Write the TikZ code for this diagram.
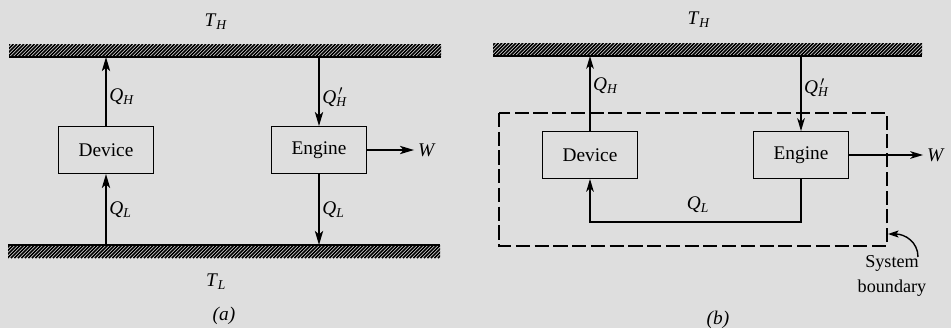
\documentclass[tikz,border=0pt]{standalone}
\usepackage{fontspec}
\setmainfont{Liberation Serif}
\usetikzlibrary{arrows.meta,positioning}
\definecolor{paper}{RGB}{222,222,222}
\newcommand{\qsub}[2]{\textit{#1}\textsubscript{\textit{#2}}}
\newcommand{\qpsub}[2]{\textit{#1}\rlap{\textsuperscript{\,$\prime$}}\textsubscript{\textit{#2}}}

\begin{document}
\begin{tikzpicture}[
    x=0.03cm, y=-0.03cm,
    font=\fontsize{16.5}{19}\selectfont,
    box/.style={draw, line width=1pt, minimum width=2.85cm, minimum height=1.4cm, inner sep=0pt},
    flowa/.style={-{Stealth[length=12pt,width=7pt,inset=3pt]}, line width=1.7pt},
    flowb/.style={-{Stealth[length=11pt,width=6.5pt,inset=3pt]}, line width=1.2pt},
    hatch/.style={line width=1.3pt},
    lbl/.style={inner sep=2pt},
    boundary/.style={dashed, dash pattern=on 12pt off 4pt, line width=1.2pt}
  ]
    \fill[paper] (0,0) rectangle (951,328);
    \useasboundingbox (0,0) rectangle (951,328);

    % reservoirs
    \begin{scope}
      \clip (9,44) rectangle (441,57);
      \foreach \k in {-10,-6.5,...,445} \draw[hatch] (\k,57) -- (\k+13,44);
    \end{scope}
    \draw[line width=1.2pt] (9,57) -- (441,57);
    \begin{scope}
      \clip (8,245) rectangle (440,258);
      \foreach \k in {-10,-6.5,...,445} \draw[hatch] (\k,258) -- (\k+13,245);
    \end{scope}
    \draw[line width=1.2pt] (8,245) -- (440,245);
    \begin{scope}
      \clip (493,43) rectangle (922,56);
      \foreach \k in {475,478.5,...,925} \draw[hatch] (\k,56) -- (\k+13,43);
    \end{scope}
    \draw[line width=1.2pt] (493,56) -- (922,56);

    \coordinate (hotA) at (225,57);
    \coordinate (coldA) at (225,245);
    \coordinate (hotB) at (707,56);

    % (a)
    \node (tha) at (216,22) {\qsub{T}{H}};
    \node (tla) at (216,282) {\qsub{T}{L}};
    \node (capa) at (224,316) {\textit{(a)}};

    \node[box] (deva) at (106,150) {Device};
    \node[box] (enga) at (319,150) {Engine};
    \node (wa) at (427,150) {\textit{W}};

    \draw[flowa] (deva.north) -- (deva.north |- hotA)
      node[lbl, right, pos=0.42] (qha) {\qsub{Q}{H}};
    \draw[flowa] (deva.south |- coldA) -- (deva.south)
      node[lbl, right, pos=0.5] (qla) {\qsub{Q}{L}};
    \draw[flowa] (enga.north |- hotA) -- (enga.north)
      node[lbl, right, pos=0.58] (qpa) {\qpsub{Q}{H}};
    \draw[flowa] (enga.south) -- (enga.south |- coldA)
      node[lbl, right, pos=0.5] (qlb) {\qsub{Q}{L}};
    \draw[flowa] (enga.east) -- (wa.west);

    % (b)
    \node (thb) at (699,20) {\qsub{T}{H}};
    \node (capb) at (718,320) {\textit{(b)}};

    \node[box] (devb) at (590,155) {Device};
    \node[box] (engb) at (801,155) {Engine};
    \node (wb) at (936,155) {\textit{W}};
    \coordinate (loopb) at (700,222);

    \draw[boundary] (499,113) rectangle (887,246);
    \coordinate (sbtip) at (888,234);

    \draw[flowb] (devb.north) -- (devb.north |- hotB)
      node[lbl, right, pos=0.6] (qhb) {\qsub{Q}{H}};
    \draw[flowb] (engb.north |- hotB) -- (engb.north)
      node[lbl, right, pos=0.42] (qpb) {\qpsub{Q}{H}};
    \draw[flowb] (engb.south) -- (engb.south |- loopb) -- (devb.south |- loopb) -- (devb.south);
    \node (qlc) at (698,205) {\qsub{Q}{L}};
    \draw[flowb] (engb.east) -- (wb.west);

    \node[align=center, font=\fontsize{15.5}{22}\selectfont] (sysb) at (892,276) {System\\boundary};
    \draw[-{Stealth[length=9pt,width=6pt,inset=2pt]}, line width=1.2pt]
      (918,257) .. controls (918,242) and (905,234) .. (sbtip);
  \end{tikzpicture}
\end{document}
